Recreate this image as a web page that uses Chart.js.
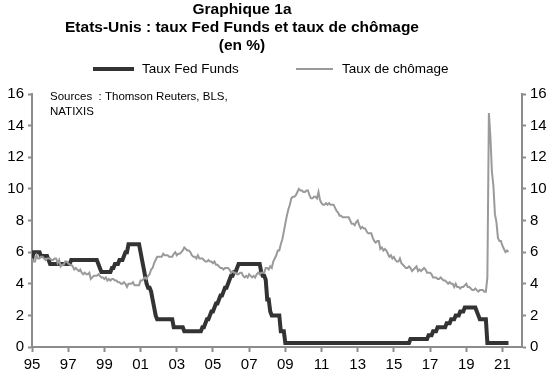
<!DOCTYPE html>
<html><head><meta charset="utf-8">
<script src="https://cdn.jsdelivr.net/npm/chart.js@4/dist/chart.umd.min.js"></script>
<style>html,body{margin:0;padding:0;background:#fff;}#wrap{width:555px;height:374px;}</style>
</head><body><div id="wrap"><canvas id="c" width="555" height="374"></canvas></div>
<script>
const titleLines = ["Graphique 1a", "Etats-Unis : taux Fed Funds et taux de chômage", "(en %)"];
const seriesNames = ["Taux Fed Funds", "Taux de chômage"];
const sourceLines = ["Sources  : Thomson Reuters, BLS,", "NATIXIS"];
const startYear = 1995; // monthly data, January 1995 to May 2021
const fedFunds = [
  5.5, 6.0, 6.0, 6.0, 6.0, 6.0, 5.75, 5.75, 5.75, 5.75, 5.75, 5.5,      // 1995
  5.25, 5.25, 5.25, 5.25, 5.25, 5.25, 5.25, 5.25, 5.25, 5.25, 5.25, 5.25, // 1996
  5.25, 5.25, 5.5, 5.5, 5.5, 5.5, 5.5, 5.5, 5.5, 5.5, 5.5, 5.5,          // 1997
  5.5, 5.5, 5.5, 5.5, 5.5, 5.5, 5.5, 5.5, 5.25, 5.0, 4.75, 4.75,         // 1998
  4.75, 4.75, 4.75, 4.75, 4.75, 5.0, 5.0, 5.25, 5.25, 5.25, 5.5, 5.5,    // 1999
  5.5, 5.75, 6.0, 6.0, 6.5, 6.5, 6.5, 6.5, 6.5, 6.5, 6.5, 6.5,           // 2000
  6.0, 5.5, 5.0, 4.5, 4.0, 3.75, 3.75, 3.5, 3.0, 2.5, 2.0, 1.75,         // 2001
  1.75, 1.75, 1.75, 1.75, 1.75, 1.75, 1.75, 1.75, 1.75, 1.75, 1.25, 1.25, // 2002
  1.25, 1.25, 1.25, 1.25, 1.25, 1.0, 1.0, 1.0, 1.0, 1.0, 1.0, 1.0,       // 2003
  1.0, 1.0, 1.0, 1.0, 1.0, 1.25, 1.25, 1.5, 1.75, 1.75, 2.0, 2.25,       // 2004
  2.25, 2.5, 2.75, 2.75, 3.0, 3.25, 3.25, 3.5, 3.75, 3.75, 4.0, 4.25,    // 2005
  4.5, 4.5, 4.75, 4.75, 5.0, 5.25, 5.25, 5.25, 5.25, 5.25, 5.25, 5.25,   // 2006
  5.25, 5.25, 5.25, 5.25, 5.25, 5.25, 5.25, 5.25, 4.75, 4.5, 4.5, 4.25,  // 2007
  3.0, 3.0, 2.25, 2.0, 2.0, 2.0, 2.0, 2.0, 2.0, 1.0, 1.0, 1.0,           // 2008
  0.25, 0.25, 0.25, 0.25, 0.25, 0.25, 0.25, 0.25, 0.25, 0.25, 0.25, 0.25, // 2009
  0.25, 0.25, 0.25, 0.25, 0.25, 0.25, 0.25, 0.25, 0.25, 0.25, 0.25, 0.25, // 2010
  0.25, 0.25, 0.25, 0.25, 0.25, 0.25, 0.25, 0.25, 0.25, 0.25, 0.25, 0.25, // 2011
  0.25, 0.25, 0.25, 0.25, 0.25, 0.25, 0.25, 0.25, 0.25, 0.25, 0.25, 0.25, // 2012
  0.25, 0.25, 0.25, 0.25, 0.25, 0.25, 0.25, 0.25, 0.25, 0.25, 0.25, 0.25, // 2013
  0.25, 0.25, 0.25, 0.25, 0.25, 0.25, 0.25, 0.25, 0.25, 0.25, 0.25, 0.25, // 2014
  0.25, 0.25, 0.25, 0.25, 0.25, 0.25, 0.25, 0.25, 0.25, 0.25, 0.25, 0.5,  // 2015
  0.5, 0.5, 0.5, 0.5, 0.5, 0.5, 0.5, 0.5, 0.5, 0.5, 0.5, 0.75,           // 2016
  0.75, 0.75, 1.0, 1.0, 1.0, 1.25, 1.25, 1.25, 1.25, 1.25, 1.25, 1.5,    // 2017
  1.5, 1.5, 1.75, 1.75, 1.75, 2.0, 2.0, 2.0, 2.25, 2.25, 2.25, 2.5,      // 2018
  2.5, 2.5, 2.5, 2.5, 2.5, 2.5, 2.5, 2.25, 2.0, 1.75, 1.75, 1.75,        // 2019
  1.75, 1.75, 0.25, 0.25, 0.25, 0.25, 0.25, 0.25, 0.25, 0.25, 0.25, 0.25, // 2020
  0.25, 0.25, 0.25, 0.25, 0.25                                           // 2021
];
const unemployment = [
  5.6, 5.4, 5.4, 5.8, 5.6, 5.6, 5.7, 5.7, 5.6, 5.5, 5.6, 5.6,  // 1995
  5.6, 5.5, 5.5, 5.6, 5.6, 5.3, 5.5, 5.1, 5.2, 5.2, 5.4, 5.4,  // 1996
  5.3, 5.2, 5.2, 5.1, 4.9, 5.0, 4.9, 4.8, 4.9, 4.7, 4.6, 4.7,  // 1997
  4.6, 4.6, 4.7, 4.3, 4.4, 4.5, 4.5, 4.5, 4.6, 4.5, 4.4, 4.4,  // 1998
  4.3, 4.4, 4.2, 4.3, 4.2, 4.3, 4.3, 4.2, 4.2, 4.1, 4.1, 4.0,  // 1999
  4.0, 4.1, 4.0, 3.8, 4.0, 4.0, 4.0, 4.1, 3.9, 3.9, 3.9, 3.9,  // 2000
  4.2, 4.2, 4.3, 4.4, 4.3, 4.5, 4.6, 4.9, 5.0, 5.3, 5.5, 5.7,  // 2001
  5.7, 5.7, 5.7, 5.9, 5.8, 5.8, 5.8, 5.7, 5.7, 5.7, 5.9, 6.0,  // 2002
  5.8, 5.9, 5.9, 6.0, 6.1, 6.3, 6.2, 6.1, 6.1, 6.0, 5.8, 5.7,  // 2003
  5.7, 5.6, 5.8, 5.6, 5.6, 5.6, 5.5, 5.4, 5.4, 5.5, 5.4, 5.4,  // 2004
  5.3, 5.4, 5.2, 5.2, 5.1, 5.0, 5.0, 4.9, 5.0, 5.0, 5.0, 4.9,  // 2005
  4.7, 4.8, 4.7, 4.7, 4.6, 4.6, 4.7, 4.7, 4.5, 4.4, 4.5, 4.4,  // 2006
  4.6, 4.5, 4.4, 4.5, 4.4, 4.6, 4.7, 4.6, 4.7, 4.7, 4.7, 5.0,  // 2007
  5.0, 4.9, 5.1, 5.0, 5.4, 5.6, 5.8, 6.1, 6.1, 6.5, 6.8, 7.3,  // 2008
  7.8, 8.3, 8.7, 9.0, 9.4, 9.5, 9.5, 9.6, 9.8, 10.0, 9.9, 9.9, // 2009
  9.8, 9.8, 9.9, 9.9, 9.6, 9.4, 9.4, 9.5, 9.5, 9.4, 9.8, 9.3,  // 2010
  9.1, 9.0, 9.0, 9.1, 9.0, 9.1, 9.0, 9.0, 9.0, 8.8, 8.6, 8.5,  // 2011
  8.3, 8.3, 8.2, 8.2, 8.2, 8.2, 8.2, 8.0, 7.8, 7.8, 7.7, 7.9,  // 2012
  8.0, 7.7, 7.5, 7.6, 7.5, 7.5, 7.3, 7.2, 7.2, 7.2, 6.9, 6.7,  // 2013
  6.6, 6.7, 6.7, 6.2, 6.3, 6.1, 6.2, 6.1, 5.9, 5.7, 5.8, 5.6,  // 2014
  5.7, 5.5, 5.4, 5.4, 5.6, 5.3, 5.2, 5.1, 5.0, 5.0, 5.1, 5.0,  // 2015
  4.8, 4.9, 5.0, 5.1, 4.8, 4.9, 4.8, 4.9, 5.0, 4.9, 4.7, 4.7,  // 2016
  4.7, 4.6, 4.4, 4.4, 4.4, 4.3, 4.3, 4.4, 4.3, 4.2, 4.2, 4.1,  // 2017
  4.0, 4.1, 4.0, 4.0, 3.8, 4.0, 3.8, 3.8, 3.7, 3.8, 3.8, 3.9,  // 2018
  4.0, 3.8, 3.8, 3.7, 3.6, 3.6, 3.7, 3.6, 3.5, 3.6, 3.6, 3.6,  // 2019
  3.5, 3.5, 4.4, 14.8, 13.3, 11.1, 10.2, 8.4, 7.9, 6.9, 6.7, 6.7, // 2020
  6.4, 6.2, 6.0, 6.1, 6.0                                      // 2021
];
const xTickYears = [1995, 1997, 1999, 2001, 2003, 2005, 2007, 2009, 2011, 2013, 2015, 2017, 2019, 2021];
const yMin = 0, yMax = 16, yStep = 2;

const toPoints = arr => arr.map((v, i) => ({ x: startYear + i / 12, y: v }));

const AXIS = '#8c8c8c';
const FONT = '"Liberation Sans", Arial, sans-serif';

const textPlugin = {
  id: 'texts',
  afterDraw(chart) {
    const ctx = chart.ctx;
    ctx.save();
    ctx.fillStyle = '#000';
    ctx.textAlign = 'center';
    ctx.textBaseline = 'middle';
    ctx.font = 'bold 15.5px ' + FONT;
    [10, 28, 46].forEach((y, i) => ctx.fillText(titleLines[i], 242, y));
    // legend
    ctx.textAlign = 'left';
    ctx.font = '13.5px ' + FONT;
    ctx.strokeStyle = '#333';
    ctx.lineWidth = 4;
    ctx.beginPath(); ctx.moveTo(93, 69); ctx.lineTo(134, 69); ctx.stroke();
    ctx.fillText(seriesNames[0], 142, 69);
    ctx.strokeStyle = '#9a9a9a';
    ctx.lineWidth = 2;
    ctx.beginPath(); ctx.moveTo(296, 69); ctx.lineTo(333, 69); ctx.stroke();
    ctx.fillText(seriesNames[1], 342, 69);
    // sources
    ctx.font = '11.5px ' + FONT;
    ctx.fillText(sourceLines[0], 50, 97);
    ctx.fillText(sourceLines[1], 50, 112);
    ctx.restore();
  }
};

const yScale = (pos, w) => ({
  type: 'linear', position: pos, min: yMin, max: yMax,
  ticks: { stepSize: yStep, color: '#000', font: { family: FONT, size: 15 }, padding: 4 },
  grid: { drawOnChartArea: false, drawTicks: true, tickLength: 4, tickColor: AXIS, tickWidth: 2 },
  border: { display: true, color: AXIS, width: 2 },
  afterFit: s => { s.width = w; }
});

new Chart(document.getElementById('c'), {
  type: 'line',
  data: {
    datasets: [
      { label: seriesNames[1], data: toPoints(unemployment), borderColor: '#9a9a9a', borderWidth: 2, pointRadius: 0, tension: 0, yAxisID: 'y' },
      { label: seriesNames[0], data: toPoints(fedFunds), borderColor: '#333333', borderWidth: 4, pointRadius: 0, tension: 0, yAxisID: 'y' }
    ]
  },
  options: {
    responsive: false, animation: false, devicePixelRatio: 1,
    layout: { padding: { top: 94, left: 0, right: 0, bottom: 0 } },
    plugins: { legend: { display: false }, title: { display: false }, tooltip: { enabled: false } },
    scales: {
      x: {
        type: 'linear', position: 'bottom', min: 1995, max: 2022.08,
        afterBuildTicks: s => { s.ticks = xTickYears.map(v => ({ value: v })); },
        ticks: { autoSkip: false, maxRotation: 0, color: '#000', font: { family: FONT, size: 15 }, padding: 4,
                 callback: v => String(v).slice(2) },
        grid: { drawOnChartArea: false, drawTicks: true, tickLength: 5, tickColor: AXIS, tickWidth: 2 },
        border: { display: true, color: AXIS, width: 2 },
        afterFit: s => { s.height = 27; }
      },
      y: yScale('left', 32),
      y1: yScale('right', 33)
    }
  },
  plugins: [textPlugin]
});
</script></body></html>
